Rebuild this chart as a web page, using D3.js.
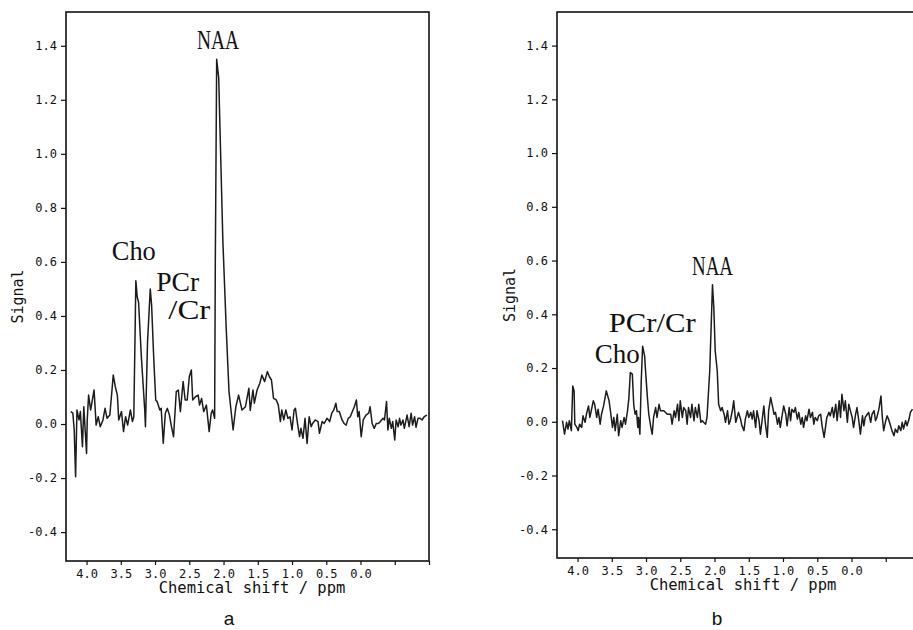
<!DOCTYPE html>
<html>
<head>
<meta charset="utf-8">
<script src="https://cdn.jsdelivr.net/npm/d3@7"></script>
<style>
body { margin: 0; background: #fff; }
svg { display: block; }
</style>
</head>
<body>
<svg id="svg" width="913" height="630"></svg>
<script>
"use strict";

// axis ticks (signal and chemical shift in ppm)
const yTicks = [-0.4, -0.2, 0.0, 0.2, 0.4, 0.6, 0.8, 1.0, 1.2, 1.4];
const xTicks = [4.0, 3.5, 3.0, 2.5, 2.0, 1.5, 1.0, 0.5, 0.0, -0.5, -1.0];

// spectrum a
const ppmA = [
    4.23, 4.20, 4.18, 4.16, 4.14, 4.11, 4.09, 4.06, 4.04, 4.00,
    3.99, 3.97, 3.94, 3.89, 3.86, 3.83, 3.80, 3.76, 3.73, 3.70,
    3.66, 3.61, 3.58, 3.55, 3.53, 3.49, 3.46, 3.43, 3.40, 3.36,
    3.33, 3.31, 3.28, 3.26, 3.24, 3.20, 3.15, 3.14, 3.11, 3.07,
    3.05, 3.02, 2.99, 2.97, 2.93, 2.91, 2.88, 2.85, 2.82, 2.79,
    2.76, 2.73, 2.69, 2.66, 2.63, 2.59, 2.56, 2.53, 2.50, 2.47,
    2.45, 2.41, 2.37, 2.35, 2.32, 2.29, 2.25, 2.21, 2.18, 2.16,
    2.13, 2.12, 2.10, 2.07, 2.06, 2.01, 1.96, 1.92, 1.86, 1.82,
    1.78, 1.73, 1.68, 1.63, 1.61, 1.57, 1.55, 1.51, 1.47, 1.44,
    1.40, 1.36, 1.33, 1.30, 1.27, 1.23, 1.20, 1.17, 1.15, 1.12,
    1.09, 1.06, 1.03, 1.00, 0.97, 0.95, 0.92, 0.89, 0.87, 0.84,
    0.81, 0.78, 0.75, 0.72, 0.70, 0.66, 0.62, 0.60, 0.56, 0.53,
    0.49, 0.45, 0.42, 0.39, 0.36, 0.34, 0.31, 0.27, 0.24, 0.21,
    0.18, 0.15, 0.11, 0.09, 0.06, 0.04, 0.02, -0.01, -0.04, -0.08,
    -0.12, -0.14, -0.17, -0.20, -0.23, -0.26, -0.29, -0.33, -0.35, -0.38,
    -0.40, -0.42, -0.45, -0.47, -0.50, -0.52, -0.55, -0.57, -0.59, -0.62,
    -0.64, -0.68, -0.71, -0.74, -0.76, -0.79, -0.81, -0.84, -0.87, -0.90,
    -0.93, -0.97
];
const sigA = [
    0.046, 0.040, -0.022, -0.195, 0.052, 0.015, 0.046, -0.084, 0.064, -0.109,
    0.015, 0.107, 0.052, 0.126, -0.004, 0.027, -0.010, 0.015, 0.058, 0.021,
    0.033, 0.181, 0.138, 0.107, 0.015, 0.046, -0.028, 0.027, -0.004, 0.052,
    0.009, 0.027, 0.53, 0.47, 0.45, 0.25, 0.05, -0.01, 0.30, 0.50,
    0.44, 0.25, 0.089, 0.083, 0.052, 0.058, -0.071, 0.040, 0.058, 0.033,
    -0.010, -0.047, 0.120, 0.126, 0.046, 0.157, 0.089, 0.089, 0.175, 0.200,
    0.089, 0.101, 0.107, 0.070, 0.095, 0.046, 0.070, -0.028, 0.040, 0.052,
    0.021, 0.60, 1.35, 1.28, 1.175, 0.68, 0.35, 0.12, -0.022, 0.064,
    0.107, 0.052, 0.064, 0.132, 0.05, 0.126, 0.077, 0.126, 0.151, 0.181,
    0.157, 0.194, 0.175, 0.163, 0.095, 0.089, 0.070, 0.009, 0.052, 0.015,
    0.052, 0.021, 0.027, -0.022, 0.052, 0.058, 0.002, -0.047, -0.016, -0.053,
    0.021, -0.072, 0.027, -0.010, 0.002, 0.015, 0.009, -0.034, 0.009, 0.002,
    0.021, 0.009, 0.040, 0.052, 0.077, 0.046, 0.046, 0.015, 0.002, -0.004,
    0.021, 0.027, 0.052, 0.064, 0.089, 0.027, 0.046, -0.047, 0.015, 0.033,
    0.040, 0.064, 0.002, -0.016, 0.002, 0.002, 0.009, 0.021, 0.015, 0.083,
    -0.022, 0.021, -0.016, 0.009, -0.059, 0.015, -0.010, 0.021, -0.004, 0.015,
    -0.016, 0.033, -0.010, 0.040, -0.004, 0.027, -0.012, 0.021, 0.021, 0.015,
    0.027, 0.033
];

// spectrum b
const ppmB = [
    4.22, 4.19, 4.16, 4.14, 4.12, 4.09, 4.07, 4.05, 4.04, 4.01,
    3.99, 3.97, 3.94, 3.92, 3.89, 3.87, 3.84, 3.82, 3.80, 3.77,
    3.75, 3.72, 3.70, 3.67, 3.65, 3.62, 3.58, 3.54, 3.52, 3.49,
    3.47, 3.45, 3.42, 3.40, 3.37, 3.35, 3.32, 3.30, 3.27, 3.25,
    3.23, 3.20, 3.18, 3.16, 3.14, 3.12, 3.11, 3.09, 3.07, 3.05,
    3.02, 3.01, 2.98, 2.96, 2.93, 2.91, 2.89, 2.86, 2.84, 2.81,
    2.79, 2.74, 2.69, 2.64, 2.62, 2.59, 2.57, 2.54, 2.52, 2.50,
    2.47, 2.45, 2.42, 2.40, 2.38, 2.35, 2.33, 2.30, 2.28, 2.25,
    2.23, 2.20, 2.18, 2.16, 2.13, 2.11, 2.07, 2.03, 2.01, 1.99,
    1.96, 1.94, 1.91, 1.89, 1.86, 1.84, 1.81, 1.79, 1.77, 1.74,
    1.72, 1.69, 1.65, 1.62, 1.60, 1.57, 1.55, 1.52, 1.50, 1.47,
    1.45, 1.43, 1.40, 1.38, 1.35, 1.33, 1.30, 1.28, 1.26, 1.23,
    1.21, 1.18, 1.16, 1.13, 1.11, 1.08, 1.06, 1.04, 1.01, 0.99,
    0.96, 0.94, 0.91, 0.89, 0.87, 0.84, 0.82, 0.79, 0.77, 0.74,
    0.72, 0.70, 0.67, 0.65, 0.62, 0.60, 0.57, 0.55, 0.53, 0.50,
    0.48, 0.45, 0.43, 0.40, 0.38, 0.36, 0.33, 0.31, 0.28, 0.26,
    0.23, 0.21, 0.18, 0.16, 0.14, 0.11, 0.09, 0.06, 0.04, 0.01,
    -0.01, -0.03, -0.06, -0.08, -0.11, -0.13, -0.16, -0.18, -0.20, -0.23,
    -0.25, -0.28, -0.30, -0.33, -0.35, -0.37, -0.40, -0.43, -0.45, -0.47,
    -0.50, -0.52, -0.54, -0.57, -0.59, -0.62, -0.64, -0.67, -0.69, -0.72,
    -0.74, -0.76, -0.79, -0.81, -0.84, -0.86, -0.89
];
const sigB = [
    0.004, -0.046, -0.002, -0.027, 0.004, -0.033, 0.133, 0.115, -0.009, -0.021,
    -0.033, -0.009, -0.021, 0.022, -0.002, 0.028, 0.059, 0.016, 0.041, 0.078,
    0.065, 0.016, 0.047, -0.009, 0.028, 0.059, 0.115, 0.078, 0.041, -0.021,
    0.016, -0.033, 0.028, -0.052, 0.004, -0.021, 0.016, -0.009, 0.041, 0.090,
    0.183, 0.177, 0.065, 0.028, 0.041, -0.021, 0.016, -0.046, 0.152, 0.281,
    0.244, 0.201, 0.090, 0.028, -0.021, -0.046, 0.016, 0.053, 0.016, 0.065,
    0.041, 0.041, 0.028, 0.028, -0.009, 0.041, 0.016, 0.065, 0.004, 0.078,
    0.016, 0.053, 0.041, -0.009, 0.053, 0.016, 0.065, 0.004, 0.053, 0.016,
    0.065, -0.002, 0.004, -0.002, -0.009, 0.016, 0.189, 0.51, 0.423, 0.263,
    0.189, 0.065, 0.041, 0.053, 0.028, -0.002, 0.041, -0.009, 0.004, 0.041,
    0.078, -0.002, 0.035, 0.010, -0.015, -0.033, 0.010, 0.041, 0.016, 0.035,
    0.010, 0.041, -0.021, 0.041, 0.004, -0.046, 0.016, 0.059, -0.002, -0.058,
    0.041, 0.090, 0.065, 0.028, 0.035, -0.009, 0.016, -0.021, 0.028, 0.059,
    0.028, -0.015, 0.053, 0.004, 0.047, 0.035, 0.053, 0.010, 0.035, -0.009,
    0.016, -0.021, 0.022, 0.004, 0.047, 0.016, 0.035, -0.009, 0.016, 0.004,
    0.022, 0.028, -0.015, -0.058, -0.021, 0.016, 0.035, 0.022, 0.053, 0.016,
    0.065, 0.004, 0.078, 0.016, 0.102, 0.041, 0.078, -0.002, 0.065, 0.035,
    0.016, -0.021, 0.028, 0.053, -0.002, -0.046, 0.022, -0.015, 0.016, 0.028,
    0.035, -0.002, 0.028, 0.041, 0.004, 0.016, 0.047, 0.096, 0.016, -0.033,
    0.004, 0.022, 0.010, -0.015, -0.033, -0.052, -0.027, -0.040, -0.015, -0.033,
    -0.002, -0.027, 0.004, -0.015, 0.010, 0.035, 0.047
];

// peak labels: text, centre (ppm), baseline (signal), printed width
const labelsA = [
    { text: "NAA", ppm: 2.08, sig: 1.388, w: 42 },
    { text: "Cho", ppm: 3.31, sig: 0.607, w: 44 },
    { text: "PCr", ppm: 2.67, sig: 0.492, w: 43 },
    { text: "/Cr", ppm: 2.50, sig: 0.388, w: 42 }
];
const labelsB = [
    { text: "NAA", ppm: 2.03, sig: 0.546, w: 41 },
    { text: "PCr/Cr", ppm: 2.91, sig: 0.334, w: 87 },
    { text: "Cho", ppm: 3.42, sig: 0.219, w: 45 }
];

var svg = d3.select("svg");

var panels = [
    { ppm: ppmA, sig: sigA, labels: labelsA, tag: "a",
      left: 66, top: 12, bottom: 561, signalX: 23, tagX: 229 },
    { ppm: ppmB, sig: sigB, labels: labelsB, tag: "b",
      left: 557, top: 12, bottom: 558, signalX: 515, tagX: 717 }
];

const frameWidth = 363;
const mono = "'DejaVu Sans Mono', 'Liberation Mono', monospace";

panels.forEach(function(p)
{
    var x = d3.scaleLinear().domain([4.3, -1.0]).range([p.left, p.left + frameWidth]);
    var y = d3.scaleLinear().domain([-0.507, 1.525]).range([p.bottom, p.top]);

    var g = svg.append("g");

    // y axis
    var yAxis = g.append("g")
        .attr("transform", "translate(" + p.left + ",0)")
        .call(d3.axisLeft(y)
            .tickValues(yTicks)
            .tickSize(5)
            .tickPadding(4)
            .tickFormat(d => d.toFixed(1)));

    // x axis
    var xAxis = g.append("g")
        .attr("transform", "translate(0," + p.bottom + ")")
        .call(d3.axisBottom(x)
            .tickValues(xTicks)
            .tickSize(4)
            .tickPadding(4)
            .tickFormat(d => d >= 0 ? d.toFixed(1) : ""));

    [yAxis, xAxis].forEach(function(a)
    {
        a.select(".domain").remove();
        a.selectAll("line").attr("stroke", "#111").attr("stroke-width", 1.2);
        a.selectAll("text")
            .attr("fill", "#111")
            .style("font-family", mono)
            .style("font-size", "12px");
    });

    // frame
    g.append("rect")
        .attr("x", p.left)
        .attr("y", p.top)
        .attr("width", frameWidth)
        .attr("height", p.bottom - p.top)
        .attr("fill", "none")
        .attr("stroke", "#111")
        .attr("stroke-width", 1.6);

    // spectrum
    var line = d3.line()
        .x((d, i) => x(p.ppm[i]))
        .y(d => y(d));

    g.append("path")
        .datum(p.sig)
        .attr("d", line)
        .attr("fill", "none")
        .attr("stroke", "#1c1c1c")
        .attr("stroke-width", 1.5)
        .attr("stroke-linejoin", "round");

    // peak labels
    g.selectAll(".peak")
        .data(p.labels)
        .enter()
        .append("text")
            .attr("class", "peak")
            .attr("x", d => x(d.ppm) - d.w / 2)
            .attr("y", d => y(d.sig))
            .attr("textLength", d => d.w)
            .attr("lengthAdjust", "spacingAndGlyphs")
            .style("font-family", "'Liberation Serif', 'DejaVu Serif', serif")
            .style("font-size", "28px")
            .attr("fill", "#111")
            .text(d => d.text);

    // axis titles
    g.append("text")
        .attr("transform", "translate(" + p.signalX + "," + (p.top + p.bottom) / 2 * 1.035 + ") rotate(-90)")
        .attr("text-anchor", "middle")
        .style("font-family", mono)
        .style("font-size", "15px")
        .attr("fill", "#111")
        .text("Signal");

    g.append("text")
        .attr("x", p.left + 186)
        .attr("y", p.bottom + 32)
        .attr("text-anchor", "middle")
        .style("font-family", mono)
        .style("font-size", "15.5px")
        .attr("fill", "#111")
        .text("Chemical shift / ppm");

    g.append("text")
        .attr("x", p.tagX)
        .attr("y", 625)
        .attr("text-anchor", "middle")
        .style("font-family", "'Liberation Sans', Arial, sans-serif")
        .style("font-size", "19px")
        .attr("fill", "#111")
        .text(p.tag);
});
</script>
</body>
</html>
